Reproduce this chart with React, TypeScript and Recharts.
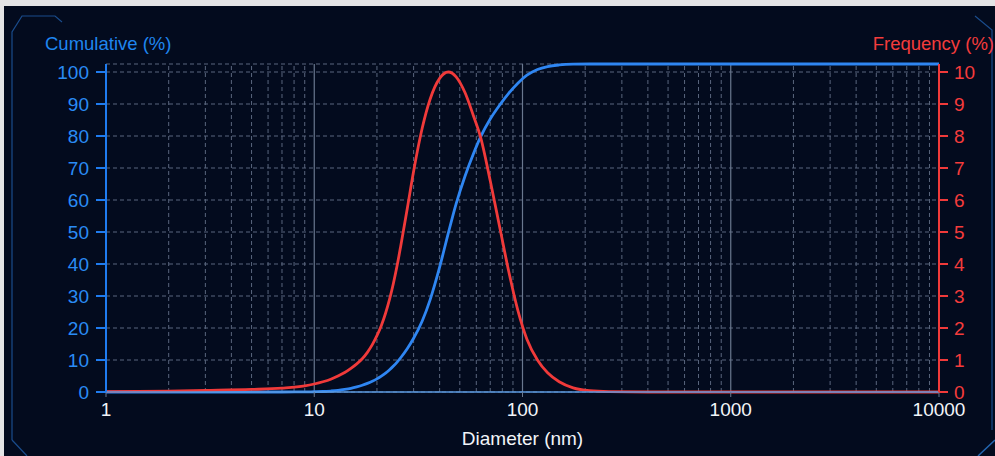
import { LineChart, Line, XAxis, YAxis, CartesianGrid, ReferenceLine } from 'recharts';

// diameters (nm) sampled along the log axis
const diameters = [1, 2, 3, 5, 7, 9, 10, 11, 12, 13, 14, 15, 16, 17, 18, 19, 20, 21, 22, 23, 24, 25, 26, 28, 30, 33, 36, 40, 44, 48, 53, 58, 63, 70, 78, 86, 95, 105, 118, 132, 150, 175, 210, 260, 400, 1000, 3000, 10000];

// cumulative (%)
const cumulative = [0, 0, 0, 0, 0, 0.03, 0.08, 0.15, 0.3, 0.5, 0.8, 1.15, 1.6, 2.1, 2.7, 3.35, 4.1, 4.95, 5.9, 6.95, 8.1, 9.35, 10.7, 13.6, 16.8, 22.2, 28.8, 39.0, 49.6, 58.8, 67.5, 74.3, 79.8, 85.3, 89.8, 93.4, 96.5, 99.0, 100.8, 101.7, 102.2, 102.45, 102.5, 102.5, 102.5, 102.5, 102.5, 102.5];

// frequency (%)
const frequency = [0.01, 0.03, 0.05, 0.08, 0.12, 0.19, 0.25, 0.32, 0.4, 0.5, 0.61, 0.74, 0.88, 1.04, 1.24, 1.48, 1.76, 2.08, 2.46, 2.9, 3.4, 3.95, 4.55, 5.75, 6.9, 8.25, 9.15, 9.8, 10.0, 9.85, 9.35, 8.65, 7.95, 6.6, 5.1, 3.75, 2.55, 1.65, 1.0, 0.6, 0.32, 0.13, 0.04, 0.01, 0, 0, 0, 0];

const xTicks = [1, 10, 100, 1000, 10000];
const cumTicks = [0, 10, 20, 30, 40, 50, 60, 70, 80, 90, 100];
const freqTicks = [0, 1, 2, 3, 4, 5, 6, 7, 8, 9, 10];

const majorLines = [10, 100, 1000];
const minorLines = [1, 10, 100, 1000].flatMap(d => [2, 3, 4, 5, 6, 7, 8, 9].map(m => m * d));

const data = diameters.map((d, i) => ({ d, cum: cumulative[i], freq: frequency[i] }));

const FONT = '"Liberation Sans", Arial, sans-serif';
const BLUE = '#2f86f2';
const RED = '#f03a3a';
const GRID = '#5a667e';

export default function App() {
  return (
    <div style={{ position: 'relative', width: 995, height: 456, background: '#e4e4e6', fontFamily: FONT, overflow: 'hidden' }}>
      <style>{'body{margin:0}'}</style>
      <div style={{ position: 'absolute', left: 4, top: 6, width: 991, height: 450, background: '#030b1e' }} />
      <svg width={995} height={456} style={{ position: 'absolute', left: 0, top: 0 }}>
        <defs>
          <linearGradient id="glow" x1="0" x2="1" y1="0" y2="0">
            <stop offset="0" stopColor="#1d5fae" stopOpacity={0.4} />
            <stop offset="0.25" stopColor="#2f7fd8" stopOpacity={0.9} />
            <stop offset="0.6" stopColor="#1d5fae" stopOpacity={0.5} />
            <stop offset="1" stopColor="#1d5fae" stopOpacity={0.3} />
          </linearGradient>
        </defs>
        <polyline points="12,440 12,32 22,16 55,16 62,22" fill="none" stroke="#1a4c8c" strokeWidth={1.2} />
        <line x1={64} y1={16} x2={975} y2={16} stroke="url(#glow)" strokeWidth={2} />
        <polyline points="975,16 992,30 992,430" fill="none" stroke="#1a4c8c" strokeWidth={1.2} />
        <line x1={12} y1={440} x2={27} y2={456} stroke="#1a4c8c" strokeWidth={1.2} />
        <line x1={978} y1={456} x2={995} y2={440} stroke="#2466b0" strokeWidth={1.5} />
      </svg>
      <div style={{ position: 'absolute', left: 45, top: 33, color: '#1f86ef', fontSize: 18.5 }}>Cumulative (%)</div>
      <div style={{ position: 'absolute', right: 1, top: 33, color: '#f53c3c', fontSize: 18.5 }}>Frequency (%)</div>
      <div style={{ position: 'absolute', left: 0, top: 0 }}>
        <LineChart width={995} height={456} data={data} margin={{ top: 64, right: 6, left: 46, bottom: 4 }}>
          <CartesianGrid yAxisId="left" vertical={false} stroke={GRID} strokeDasharray="4 3" />
          {minorLines.map(v => (
            <ReferenceLine key={`m${v}`} x={v} yAxisId="left" stroke={GRID} strokeDasharray="4 3" />
          ))}
          {majorLines.map(v => (
            <ReferenceLine key={`M${v}`} x={v} yAxisId="left" stroke="#6a788f" strokeWidth={1.2} />
          ))}
          <XAxis
            dataKey="d"
            type="number"
            scale="log"
            domain={[1, 10000]}
            ticks={xTicks}
            allowDataOverflow
            height={60}
            tickSize={5}
            tickMargin={6}
            axisLine={{ stroke: '#5b9ae0', strokeWidth: 1.5 }}
            tickLine={{ stroke: '#6a788f' }}
            tick={{ fill: '#f2f4f8', fontSize: 19, fontFamily: FONT }}
            label={{ value: 'Diameter (nm)', position: 'insideBottom', offset: 7, fill: '#f2f4f8', fontSize: 19, fontFamily: FONT }}
          />
          <YAxis
            yAxisId="left"
            orientation="left"
            width={60}
            domain={[0, 102.5]}
            ticks={cumTicks}
            interval={0}
            tickSize={10}
            tickMargin={7}
            axisLine={{ stroke: '#1f7cf0', strokeWidth: 2 }}
            tickLine={{ stroke: '#1f7cf0', strokeWidth: 2 }}
            tick={{ fill: '#2a8cf5', fontSize: 19, fontFamily: FONT }}
          />
          <YAxis
            yAxisId="right"
            orientation="right"
            width={50}
            domain={[0, 10.25]}
            ticks={freqTicks}
            interval={0}
            tickSize={9}
            tickMargin={6}
            axisLine={{ stroke: RED, strokeWidth: 2 }}
            tickLine={{ stroke: RED, strokeWidth: 2 }}
            tick={{ fill: '#f53c3c', fontSize: 19, fontFamily: FONT }}
          />
          <Line yAxisId="left" type="monotone" dataKey="cum" stroke={BLUE} strokeWidth={2.8} dot={false} isAnimationActive={false} />
          <Line yAxisId="right" type="monotone" dataKey="freq" stroke={RED} strokeWidth={2.8} dot={false} isAnimationActive={false} />
        </LineChart>
      </div>
    </div>
  );
}
